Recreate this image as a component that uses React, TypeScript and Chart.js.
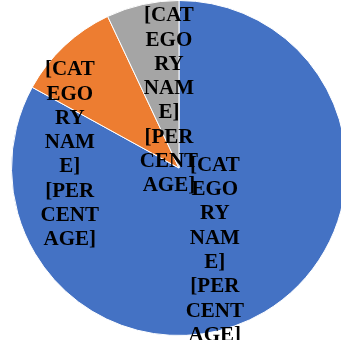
import React, { useEffect, useRef } from "react";
import { Chart, registerables } from "chart.js";

Chart.register(...registerables);

// ---- data ----
const categories = ["Category 1", "Category 2", "Category 3"];
const values = [83, 10, 7];
const colors = ["#4472C4", "#ED7D31", "#A5A5A5"];
const labelName = "[CATEGORY NAME]";
const labelPct = "[PERCENTAGE]";

// label anchor offsets, as fractions of the pie radius from its centre
const labelOffsets: [number, number][] = [
  [0.214, 0.483],
  [-0.652, -0.0875],
  [-0.06, -0.41],
];

const FONT_SIZE = 21;
const LINE_HEIGHT = 24.3;
const MAX_LINE = 60;

function wrapText(ctx: CanvasRenderingContext2D, text: string, maxW: number): string[] {
  const words = text.split(" ");
  const lines: string[] = [];
  let cur = "";
  for (const w of words) {
    const trial = cur ? cur + " " + w : w;
    if (ctx.measureText(trial).width <= maxW) {
      cur = trial;
      continue;
    }
    if (cur) lines.push(cur);
    cur = "";
    if (ctx.measureText(w).width <= maxW) {
      cur = w;
      continue;
    }
    for (const ch of w) {
      if (ctx.measureText(cur + ch).width <= maxW || !cur) {
        cur += ch;
      } else {
        lines.push(cur);
        cur = ch;
      }
    }
  }
  if (cur) lines.push(cur);
  return lines;
}

const sliceLabels = {
  id: "sliceLabels",
  afterDatasetsDraw(chart: any) {
    const meta = chart.getDatasetMeta(0);
    const ctx: CanvasRenderingContext2D = chart.ctx;
    ctx.save();
    ctx.font = `bold ${FONT_SIZE}px "Liberation Serif", "Times New Roman", serif`;
    ctx.fillStyle = "#000000";
    ctx.textAlign = "center";
    ctx.textBaseline = "alphabetic";
    const capHalf = FONT_SIZE * 0.662 / 2;
    meta.data.forEach((arc: any, i: number) => {
      const { x, y, outerRadius } = arc.getProps(["x", "y", "outerRadius"], true);
      const [fx, fy] = labelOffsets[i];
      const cx = x + fx * outerRadius;
      const cy = y + fy * outerRadius;
      const lines = wrapText(ctx, `${labelName} ${labelPct}`, MAX_LINE);
      const n = lines.length;
      lines.forEach((ln, k) => {
        const mid = cy + (k - (n - 1) / 2) * LINE_HEIGHT;
        ctx.fillText(ln, cx, mid + capHalf);
      });
    });
    ctx.restore();
  },
};

export default function App() {
  const ref = useRef<HTMLCanvasElement | null>(null);
  useEffect(() => {
    if (!ref.current) return;
    const chart = new Chart(ref.current, {
      type: "pie",
      data: {
        labels: categories,
        datasets: [
          {
            data: values,
            backgroundColor: colors,
            borderColor: "#FFFFFF",
            borderWidth: 1,
          },
        ],
      },
      options: {
        responsive: false,
        animation: false,
        layout: { padding: { top: 0, left: 0, right: 0, bottom: 4 } },
        plugins: {
          legend: { display: false },
          tooltip: { enabled: false },
        },
      },
      plugins: [sliceLabels],
    });
    return () => chart.destroy();
  }, []);
  return (
    <div
      style={{
        position: "fixed",
        left: 0,
        top: 0,
        width: 341,
        height: 346,
        overflow: "hidden",
        background: "#FFFFFF",
      }}
    >
      <div style={{ position: "absolute", left: 11, top: 0, width: 336, height: 340 }}>
        <canvas ref={ref} width={336} height={340} style={{ width: 336, height: 340, display: "block" }} />
      </div>
    </div>
  );
}
